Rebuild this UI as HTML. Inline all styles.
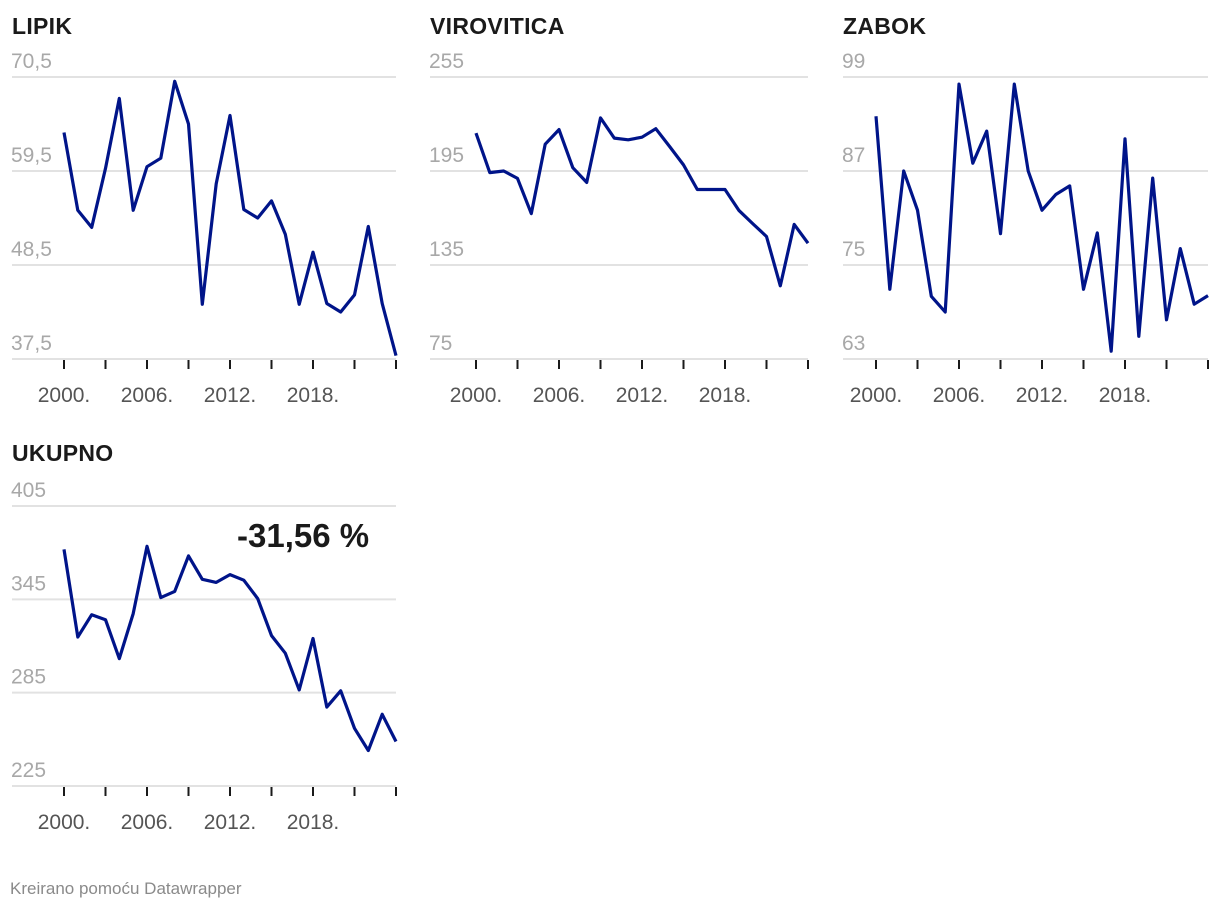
<!DOCTYPE html>
<html><head><meta charset="utf-8"><style>
body{margin:0;background:#fff;width:1220px;height:912px;overflow:hidden;font-family:"Liberation Sans",sans-serif}
svg{position:absolute;left:0;top:0}
</style></head><body>
<svg id="chart" width="1220" height="912"></svg>
<script>
const years = [2000,2001,2002,2003,2004,2005,2006,2007,2008,2009,2010,2011,2012,2013,2014,2015,2016,2017,2018,2019,2020,2021,2022,2023,2024];
const xTickYears = [2000,2003,2006,2009,2012,2015,2018,2021,2024];
const xLabelYears = [2000,2006,2012,2018];
const lipikValues = [64.0,54.9,52.9,59.8,68.0,54.9,60.0,61.0,70.0,65.0,43.9,58.0,66.0,55.0,54.0,56.0,52.1,43.9,50.0,44.0,43.0,45.0,53.0,44.0,37.9];
const lipikTicks = [70.5,59.5,48.5,37.5];
const viroviticaValues = [219.2,194,195,190.3,167.8,212.1,221.4,197.1,187.7,228.9,216,214.9,216.6,222,210.6,198.9,183.2,183.2,183.2,169.9,161.4,153.2,121.7,160.9,148.9];
const viroviticaTicks = [255,195,135,75];
const zabokValues = [94.0,71.9,87.0,82.0,71.0,69.0,98.1,88.0,92.1,79.0,98.1,87.0,82.0,84.0,85.1,71.9,79.1,64.0,91.1,65.9,86.1,68.0,77.1,70.0,71.1];
const zabokTicks = [99,87,75,63];
const ukupnoValues = [377.1,320.8,335.1,331.9,306.9,335.8,379.1,346.1,350.1,372.9,357.9,355.9,360.9,357.3,345.5,321.7,310.4,286.8,319.8,275.7,286.2,262.1,247.8,271.1,253.6];
const ukupnoTicks = [405,345,285,225];

const NS="http://www.w3.org/2000/svg";
const svg=document.getElementById('chart');
function mk(tag,attrs,parent){const e=document.createElementNS(NS,tag);for(const k in attrs)e.setAttribute(k,attrs[k]);(parent||svg).appendChild(e);return e;}

const panels=[
 {title:'LIPIK',vals:lipikValues,ticks:lipikTicks,gx:12,x0:64,x1:396,top:77,bot:359,ty:26,slug:'lipik'},
 {title:'VIROVITICA',vals:viroviticaValues,ticks:viroviticaTicks,gx:430,x0:476,x1:808,top:77,bot:359,ty:26,slug:'virovitica'},
 {title:'ZABOK',vals:zabokValues,ticks:zabokTicks,gx:843,x0:876,x1:1208,top:77,bot:359,ty:26,slug:'zabok'},
 {title:'UKUPNO',vals:ukupnoValues,ticks:ukupnoTicks,gx:12,x0:64,x1:396,top:506,bot:786,ty:453,slug:'ukupno'}
];
panels.forEach(p=>{
 const g=mk('g',{});
 
 
 const vmax=p.ticks[0], vmin=p.ticks[p.ticks.length-1];
 const xs=y=>p.x0+(y-years[0])/(years[years.length-1]-years[0])*(p.x1-p.x0);
 const ys=v=>p.bot-(v-vmin)/(vmax-vmin)*(p.bot-p.top);
 const t=mk('text',{x:p.gx,y:p.ty+8,'font-size':23,'font-weight':'bold',fill:'#1a1a1a','letter-spacing':'0.3'},g);
 t.textContent=p.title;
 
 
 p.ticks.forEach(v=>{
  const l=mk('line',{x1:p.gx,x2:p.x1,y1:ys(v),y2:ys(v),stroke:'#e2e2e2','stroke-width':2},g);
  
  
  const tx=mk('text',{x:p.gx-1,y:ys(v)-9,'font-size':21,fill:'#a8a8a8'},g);
  tx.textContent=String(v).replace('.',',');
  
  
 });
 xTickYears.forEach(yr=>{
  const l=mk('line',{x1:xs(yr),x2:xs(yr),y1:p.bot+1,y2:p.bot+10,stroke:'#1a1a1a','stroke-width':2},g);
  
  
 });
 xLabelYears.forEach(yr=>{
  const tx=mk('text',{x:xs(yr),y:p.bot+43,'font-size':21,fill:'#555','text-anchor':'middle'},g);
  tx.textContent=yr+'.';
  
  
 });
 const d=p.vals.map((v,i)=>(i?'L':'M')+xs(years[i]).toFixed(1)+','+ys(v).toFixed(1)).join('');
 const path=mk('path',{d:d,fill:'none',stroke:'#001489','stroke-width':3.2,'stroke-linejoin':'round'},g);
 
 
});
const ann=mk('text',{x:237,y:547,'font-size':33,'font-weight':'bold',fill:'#1a1a1a'});
ann.textContent='-31,56 %';


const ft=mk('text',{x:10,y:894,'font-size':17,fill:'#8a8a8a'});
ft.textContent='Kreirano pomoću Datawrapper';


</script>
</body></html>
